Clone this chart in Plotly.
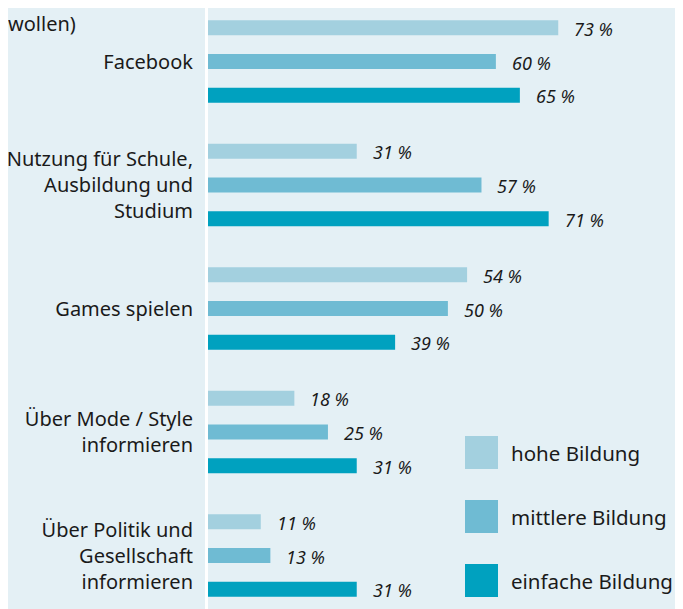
import plotly.graph_objects as go

# Daten
kategorien = ['Facebook', 'Nutzung für Schule,<br>Ausbildung und<br>Studium', 'Games spielen',
              'Über Mode / Style<br>informieren', 'Über Politik und<br>Gesellschaft<br>informieren']
hohe = [73, 31, 54, 18, 11]
mittlere = [60, 57, 50, 25, 13]
einfache = [65, 71, 39, 31, 31]

serien = ['hohe Bildung', 'mittlere Bildung', 'einfache Bildung']
werte = [hohe, mittlere, einfache]
farben = ['#a3d0df', '#6fbbd3', '#00a1bf']

BG = '#e4f0f5'
TXT = '#1a1a1a'
BARGAP = 0.18

# die Seite hat 8px Rand -> alles um 8px verschieben
OFF = 8
L, T = 208 - OFF, 0
W, H = 683 - OFF - L, 609 - OFF - T


def px_x(p):
    return (p - OFF - L) / W


def px_y(p):
    return 1 - (p - OFF - T) / H


fig = go.Figure()
for name, vals, col in zip(serien, werte, farben):
    fig.add_trace(go.Bar(y=kategorien, x=vals, name=name, orientation='h',
                         marker=dict(color=col, line=dict(width=0)), showlegend=False))

# Werte-Beschriftungen
slot = (1 - BARGAP) / 3
annos = []
for j, vals in enumerate(werte):
    for i, v in enumerate(vals):
        annos.append(dict(x=v, y=i + (j - 1) * slot, xref='x', yref='y', text=f'{v} %',
                          showarrow=False, xanchor='left', yanchor='middle', xshift=14, yshift=-1,
                          font=dict(family='Noto Sans', size=18, color=TXT, style='italic')))

# Legende (Quadrate + Text)
shapes = []
for k, (name, col) in enumerate(zip(serien, farben)):
    y0 = 436 + k * 64
    shapes.append(dict(type='rect', xref='paper', yref='paper', x0=px_x(465), x1=px_x(498),
                       y0=px_y(y0 + 33), y1=px_y(y0), fillcolor=col, line=dict(width=0), layer='above'))
    annos.append(dict(x=px_x(509), y=px_y(y0 + 16.5), xref='paper', yref='paper', text=name,
                      showarrow=False, xanchor='left', yanchor='middle',
                      font=dict(family='Noto Sans', size=20.5, color=TXT)))

# angeschnittener Titel (oben am Rand)
annos.append(dict(x=px_x(6), y=1, xref='paper', yref='paper', text='wollen)',
                  showarrow=False, xanchor='left', yanchor='top',
                  font=dict(family='Noto Sans', size=20, color=TXT)))

top = -(61.5 - OFF - T) / 123.5
bottom = top + H / 123.5

fig.update_layout(
    width=683, height=609,
    margin=dict(l=L, r=683 - L - W, t=T, b=609 - T - H, pad=0, autoexpand=False),
    paper_bgcolor=BG, plot_bgcolor=BG,
    barmode='group', bargap=BARGAP, bargroupgap=0.556,
    font=dict(family='Noto Sans', size=20, color=TXT),
    annotations=annos, shapes=shapes,
    xaxis=dict(range=[0, 99], visible=False, fixedrange=True, automargin=False),
    yaxis=dict(categoryorder='array', categoryarray=kategorien, range=[bottom, top],
               showgrid=False, zeroline=False, showline=True, linecolor='white', linewidth=3,
               ticks='', ticklabelstandoff=8, automargin=False, tickfont=dict(size=20, color=TXT)),
)

fig.write_html('out.html')
